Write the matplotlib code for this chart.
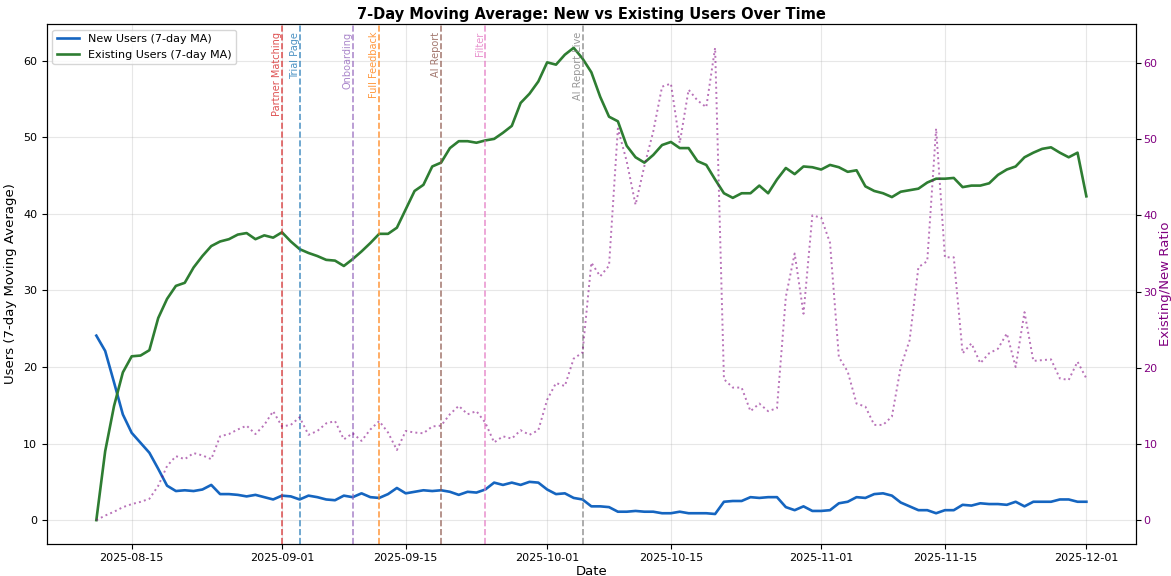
import matplotlib
matplotlib.use("Agg")
import matplotlib.pyplot as plt
import matplotlib.dates as mdates
import matplotlib.transforms as mtransforms
import numpy as np
import pandas as pd

dates = pd.date_range("2025-08-11", "2025-12-01", freq="D")

new_users = [
    24.1, 22.1, 18.0, 13.8, 11.4, 10.1, 8.8, 6.7, 4.5, 3.8,
    3.9, 3.8, 4.0, 4.6, 3.4, 3.4, 3.3, 3.1, 3.3, 3.0,
    2.7, 3.2, 3.1, 2.7, 3.2, 3.0, 2.7, 2.6, 3.2, 3.0,
    3.5, 3.0, 2.9, 3.4, 4.2, 3.5, 3.7, 3.9, 3.8, 3.9,
    3.7, 3.3, 3.7, 3.6, 4.0, 4.9, 4.6, 4.9, 4.6, 5.0,
    4.9, 4.0, 3.4, 3.5, 2.9, 2.7, 1.8, 1.8, 1.7, 1.1,
    1.1, 1.2, 1.1, 1.1, 0.9, 0.9, 1.1, 0.9, 0.9, 0.9,
    0.8, 2.4, 2.5, 2.5, 3.0, 2.9, 3.0, 3.0, 1.7, 1.3,
    1.8, 1.2, 1.2, 1.3, 2.2, 2.4, 3.0, 2.9, 3.4, 3.5,
    3.2, 2.3, 1.8, 1.3, 1.3, 0.9, 1.3, 1.3, 2.0, 1.9,
    2.2, 2.1, 2.1, 2.0, 2.4, 1.8, 2.4, 2.4, 2.4, 2.7,
    2.7, 2.4, 2.4,
]

existing_users = [
    0.0, 9.0, 14.9, 19.3, 21.4, 21.5, 22.2, 26.4, 28.9, 30.6,
    31.0, 33.0, 34.5, 35.8, 36.4, 36.7, 37.3, 37.5, 36.7, 37.2,
    36.9, 37.6, 36.4, 35.4, 34.9, 34.5, 34.0, 33.9, 33.2, 34.1,
    35.1, 36.2, 37.4, 37.4, 38.2, 40.6, 43.0, 43.8, 46.2, 46.7,
    48.6, 49.5, 49.5, 49.3, 49.6, 49.8, 50.6, 51.5, 54.5, 55.7,
    57.3, 59.8, 59.5, 60.8, 61.7, 60.3, 58.5, 55.3, 52.7, 52.1,
    48.9, 47.4, 46.7, 47.7, 49.0, 49.4, 48.6, 48.6, 46.9, 46.4,
    44.5, 42.7, 42.1, 42.7, 42.7, 43.7, 42.7, 44.5, 46.0, 45.2,
    46.2, 46.1, 45.8, 46.4, 46.1, 45.5, 45.7, 43.6, 43.0, 42.7,
    42.2, 42.9, 43.1, 43.3, 44.1, 44.6, 44.6, 44.7, 43.5, 43.7,
    43.7, 44.0, 45.1, 45.8, 46.2, 47.4, 48.0, 48.5, 48.7, 48.0,
    47.4, 48.0, 42.3,
]

ratio = [
    0.0, 0.6, 1.1, 1.7, 2.1, 2.4, 2.8, 4.5, 7.1, 8.4,
    8.0, 8.8, 8.5, 8.0, 11.0, 11.3, 11.9, 12.4, 11.3, 12.5,
    14.3, 12.3, 12.5, 13.5, 11.2, 11.7, 12.7, 13.0, 10.6, 11.4,
    10.4, 11.9, 13.0, 11.5, 9.2, 11.7, 11.5, 11.4, 12.3, 12.4,
    13.9, 15.0, 13.9, 14.3, 12.8, 10.2, 11.0, 10.7, 11.8, 11.2,
    11.8, 15.8, 18.0, 17.6, 21.2, 22.0, 33.8, 32.0, 33.4, 51.4,
    47.1, 41.4, 46.5, 51.0, 56.9, 57.3, 49.5, 56.5, 55.1, 54.2,
    62.0, 18.5, 17.4, 17.4, 14.3, 15.3, 14.3, 14.7, 29.3, 35.0,
    27.1, 40.0, 39.7, 36.4, 21.4, 19.5, 15.3, 14.9, 12.5, 12.5,
    13.6, 20.1, 23.6, 33.2, 34.0, 51.4, 34.5, 34.5, 21.9, 23.2,
    20.6, 21.9, 22.5, 24.5, 20.1, 27.3, 20.9, 21.0, 21.1, 18.6,
    18.4, 20.8, 18.6,
]

event_names = ["Partner Matching", "Trial Page", "Onboarding", "Full Feedback",
               "AI Report", "Filter", "AI Report Live"]
event_dates = ["2025-09-01", "2025-09-03", "2025-09-09", "2025-09-12",
               "2025-09-19", "2025-09-24", "2025-10-05"]
event_colors = ["tab:red", "tab:blue", "tab:purple", "tab:orange",
                "tab:brown", "tab:pink", "tab:gray"]

fig, ax1 = plt.subplots(figsize=(11.71, 5.76), dpi=100)
fig.subplots_adjust(left=0.040, right=0.970, top=0.958, bottom=0.056)

ax1.plot(dates, new_users, color="#1565c0", linewidth=1.9, label="New Users (7-day MA)")
ax1.plot(dates, existing_users, color="#2e7d32", linewidth=1.9, label="Existing Users (7-day MA)")
ax1.set_xlabel("Date", fontsize=9.5, labelpad=1)
ax1.set_ylabel("Users (7-day Moving Average)", fontsize=9.5)
ax1.tick_params(labelsize=8)
ax1.grid(True, alpha=0.3)

ax2 = ax1.twinx()
ax2.plot(dates, ratio, color="purple", linestyle=":", linewidth=1.4, alpha=0.55)
ax2.set_ylabel("Existing/New Ratio", color="purple", fontsize=9.5, labelpad=1)
ax2.tick_params(axis="y", labelcolor="purple", labelsize=8, pad=2)

trans = mtransforms.blended_transform_factory(ax1.transData, ax1.transAxes)
for name, d, c in zip(event_names, event_dates, event_colors):
    x = pd.Timestamp(d)
    ax1.axvline(x, color=c, linestyle="--", linewidth=1.2, alpha=0.75)
    ax1.text(x, 0.985, name, rotation=90, color=c, alpha=0.8, fontsize=7,
             ha="right", va="top", transform=trans)

ax1.xaxis.set_major_locator(mdates.DayLocator(bymonthday=[1, 15]))
ax1.xaxis.set_major_formatter(mdates.DateFormatter("%Y-%m-%d"))

ax1.legend(loc="upper left", fontsize=8)
ax1.set_title("7-Day Moving Average: New vs Existing Users Over Time",
              fontsize=10.5, fontweight="bold", pad=4)

fig.savefig("out.png")
